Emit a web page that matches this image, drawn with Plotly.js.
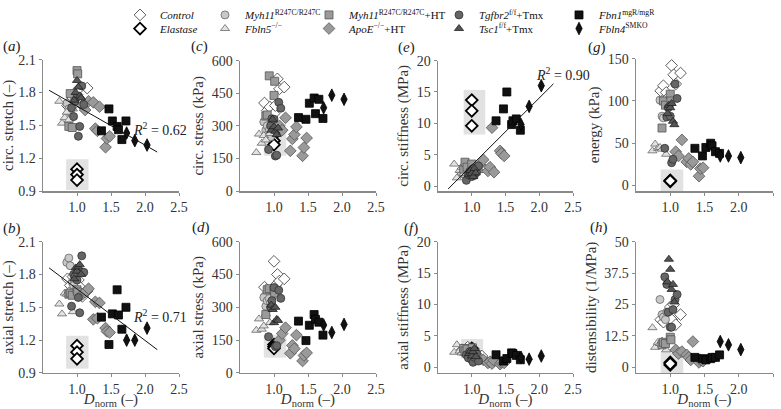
<!DOCTYPE html>
<html>
<head>
<meta charset="utf-8">
<script src="https://cdn.plot.ly/plotly-3.0.1.min.js"></script>
<style>html,body{margin:0;padding:0;background:#fff}#plot{width:781px;height:409px}</style>
</head>
<body>
<div id="plot"></div>
<script>
// D_norm per specimen and the eight metrics for each group
// panel order: circ stretch, circ stress, circ stiffness, energy, axial stretch, axial stress, axial stiffness, distensibility

// Control
var ctrlD = [0.86, 0.90, 0.94, 0.97, 1.00, 1.02, 1.05, 1.08, 1.15];
var ctrlCircStretch = [1.68, 1.72, 1.75, 1.70, 1.78, 1.83, 1.73, 1.68, 1.84];
var ctrlCircStress = [405, 370, 386, 340, 356, 393, 516, 470, 478];
var ctrlCircStiff = [2.2, 2.6, 3.2, 2.4, 3.0, 2.0, 2.8, 2.5, 3.0];
var ctrlEnergy = [112, 118, 110, 104, 157, 142, 131, 120, 133];
var ctrlAxStretch = [1.76, 1.70, 1.78, 1.72, 1.80, 1.75, 1.68, 1.60, 1.65];
var ctrlAxStress = [392, 360, 340, 375, 510, 400, 450, 420, 430];
var ctrlAxStiff = [2.8, 2.5, 3.2, 2.9, 2.6, 3.0, 2.4, 2.2, 1.8];
var ctrlDist = [19, 18, 20, 22, 24, 19, 25, 17, 21];

// Elastase
var elaD = [1.00, 1.00, 1.00];
var elaCircStretch = [1.10, 1.05, 1.00];
var elaCircStress = [258, 231, 213];
var elaCircStiff = [13.7, 12.0, 9.6];
var elaEnergy = [6, 5, 5.5];
var elaAxStretch = [1.15, 1.09, 1.03];
var elaAxStress = [130, 121, 112];
var elaAxStiff = [3.0, 2.6, 2.3];
var elaDist = [2, 1, 1.5];

// Myh11 R247C/R247C
var myhD = [0.85, 0.88, 0.90, 0.93, 0.95];
var myhCircStretch = [1.70, 1.65, 1.62, 1.58, 1.72];
var myhCircStress = [318, 280, 300, 280, 250];
var myhCircStiff = [2.0, 2.5, 1.8, 2.2, 2.8];
var myhEnergy = [101, 82, 80, 100, 95];
var myhAxStretch = [1.91, 1.95, 1.88, 1.73, 1.70];
var myhAxStress = [345, 305, 330, 340, 320];
var myhAxStiff = [2.5, 2.8, 2.2, 2.6, 3.0];
var myhDist = [27, 21, 20, 19, 22];

// Fbln5 -/-
var fb5D = [0.74, 0.78, 0.82, 0.85, 0.88, 0.94];
var fb5CircStretch = [1.72, 1.52, 1.57, 1.62, 1.55, 1.65];
var fb5CircStress = [177, 262, 220, 255, 235, 265];
var fb5CircStiff = [3.5, 1.3, 2.5, 3.0, 2.0, 2.8];
var fb5Energy = [41, 49, 44, 45, 43, 37];
var fb5AxStretch = [1.53, 1.44, 1.63, 1.62, 1.65, 1.46];
var fb5AxStress = [195, 247, 200, 215, 270, 230];
var fb5AxStiff = [2.4, 3.6, 2.6, 2.3, 3.0, 2.0];
var fb5Dist = [15.8, 8, 10, 9.5, 10.5, 7];

// Myh11 R247C/R247C + HT
var myhHtD = [0.88, 0.90, 0.93, 1.00, 1.01];
var myhHtCircStretch = [1.49, 1.79, 1.48, 2.00, 1.97];
var myhHtCircStress = [345, 350, 530, 440, 505];
var myhHtCircStiff = [2.7, 3.8, 3.0, 3.5, 2.4];
var myhHtEnergy = [68, 100, 95, 108, 100];
var myhHtAxStretch = [1.62, 1.63, 1.61, 1.66, 1.64];
var myhHtAxStress = [267, 380, 385, 380, 365];
var myhHtAxStiff = [3.0, 2.6, 2.9, 2.4, 3.1];
var myhHtDist = [9, 10, 9.5, 12, 11];

// ApoE -/- + HT
var apoD = [1.08, 1.12, 1.17, 1.24, 1.27, 1.30, 1.33, 1.42, 1.44, 1.48];
var apoCircStretch = [1.68, 1.64, 1.72, 1.71, 1.47, 1.45, 1.67, 1.30, 1.38, 1.40];
var apoCircStress = [300, 280, 337, 185, 240, 260, 295, 162, 200, 244];
var apoCircStiff = [2.6, 3.4, 4.2, 2.4, 3.0, 9.3, 2.2, 5.6, 5.2, 4.8];
var apoEnergy = [40, 35, 54, 28, 32, 25, 28, 11, 20, 21];
var apoAxStretch = [1.62, 1.64, 1.67, 1.39, 1.55, 1.40, 1.54, 1.31, 1.28, 1.27];
var apoAxStress = [150, 180, 207, 90, 126, 111, 173, 55, 80, 92];
var apoAxStiff = [1.8, 1.5, 1.2, 0.7, 0.9, 0.6, 1.1, 0.5, 0.8, 0.7];
var apoDist = [7, 5.5, 6.3, 5, 4, 3, 10.3, 2, 3, 2.5];

// Tgfbr2 f/f + Tmx
var tgfD = [0.92, 0.95, 0.97, 1.00, 1.02, 1.04, 1.07, 1.10];
var tgfCircStretch = [1.66, 1.58, 1.72, 1.76, 1.40, 1.49, 1.86, 1.69];
var tgfCircStress = [191, 300, 333, 330, 161, 165, 408, 381];
var tgfCircStiff = [0.9, 1.8, 2.3, 1.5, 2.8, 1.7, 2.2, 3.2];
var tgfEnergy = [44, 81, 92, 82, 27, 31, 120, 103];
var tgfAxStretch = [1.51, 1.80, 1.78, 1.75, 1.59, 1.45, 1.97, 1.82];
var tgfAxStress = [166, 300, 330, 390, 120, 125, 378, 341];
var tgfAxStiff = [2.0, 1.5, 2.5, 1.2, 0.8, 1.6, 2.2, 1.0];
var tgfDist = [36, 33, 22, 16, 16, 23, 27, 29];

// Tsc1 f/f + Tmx
var tscD = [0.96, 0.98, 1.00, 1.02, 1.04, 1.06];
var tscCircStretch = [1.73, 1.80, 1.91, 1.85, 1.77, 1.75];
var tscCircStress = [280, 330, 296, 275, 260, 290];
var tscCircStiff = [1.8, 2.5, 2.0, 1.5, 2.8, 2.1];
var tscEnergy = [85, 95, 92, 97, 76, 72];
var tscAxStretch = [1.76, 1.86, 1.83, 1.87, 1.89, 1.80];
var tscAxStress = [310, 290, 230, 300, 245, 240];
var tscAxStiff = [2.2, 2.6, 1.8, 2.5, 3.0, 1.7];
var tscDist = [34, 43, 39, 31, 33, 26];

// Fbn1 mgR/mgR
var fbnD = [1.36, 1.47, 1.52, 1.59, 1.61, 1.66, 1.72];
var fbnCircStretch = [1.45, 1.65, 1.54, 1.49, 1.46, 1.37, 1.54];
var fbnCircStress = [338, 330, 404, 428, 356, 422, 334];
var fbnCircStiff = [10.4, 12.3, 15.0, 9.8, 10.4, 10.7, 8.9];
var fbnEnergy = [44, 35, 45, 50, 47, 40, 38];
var fbnAxStretch = [1.41, 1.16, 1.44, 1.66, 1.43, 1.30, 1.50];
var fbnAxStress = [237, 148, 218, 267, 245, 232, 173];
var fbnAxStiff = [2.0, 1.0, 1.4, 2.3, 2.2, 1.9, 1.2];
var fbnDist = [4, 3.5, 3, 3.5, 4, 4, 5];

// Fbln4 SMKO
var fb4D = [1.73, 1.85, 2.03];
var fb4CircStretch = [1.43, 1.36, 1.32];
var fb4CircStress = [383, 441, 422];
var fb4CircStiff = [9.8, 12.7, 16.0];
var fb4Energy = [35, 35, 33];
var fb4AxStretch = [1.20, 1.20, 1.31];
var fb4AxStress = [219, 185, 222];
var fb4AxStiff = [1.6, 1.3, 1.8];
var fb4Dist = [10.3, 9, 7.1];

// regression lines (end points)
var fitCircStretchX = [0.59, 2.18], fitCircStretchY = [1.82, 1.256];
var fitAxStretchX = [0.59, 2.18], fitAxStretchY = [1.86, 1.113];
var fitCircStiffX = [0.65, 2.21], fitCircStiffY = [-0.47, 16.3];

var serif = "Liberation Serif";
var W = 781, H = 409;
function px(x) { return x / W; }
function py(y) { return 1 - y / H; }

var groups = [
  {name: "<i>Control</i>", d: ctrlD, vals: [ctrlCircStretch, ctrlCircStress, ctrlCircStiff, ctrlEnergy, ctrlAxStretch, ctrlAxStress, ctrlAxStiff, ctrlDist],
   marker: {symbol: "diamond", size: 9, color: "#fff", line: {color: "#333", width: 0.8}}, lg: "legend", pos: [140, 4]},
  {name: "<i>Elastase</i>", d: elaD, vals: [elaCircStretch, elaCircStress, elaCircStiff, elaEnergy, elaAxStretch, elaAxStress, elaAxStiff, elaDist],
   marker: {symbol: "diamond", size: 9, color: "#fff", line: {color: "#000", width: 1.8}}, lg: "legend2", pos: [140, 18]},
  {name: "<i>Myh11</i><sup>R247C/R247C</sup>", d: myhD, vals: [myhCircStretch, myhCircStress, myhCircStiff, myhEnergy, myhAxStretch, myhAxStress, myhAxStiff, myhDist],
   marker: {symbol: "circle", size: 8, color: "#c8c8c8", line: {color: "#666", width: 0.8}}, lg: "legend3", pos: [225, 4]},
  {name: "<i>Fbln5</i><sup>−/−</sup>", d: fb5D, vals: [fb5CircStretch, fb5CircStress, fb5CircStiff, fb5Energy, fb5AxStretch, fb5AxStress, fb5AxStiff, fb5Dist],
   marker: {symbol: "triangle-up", size: 8, color: "#e2e2e2", line: {color: "#666", width: 0.8}}, lg: "legend4", pos: [225, 18]},
  {name: "<i>Myh11</i><sup>R247C/R247C</sup>+HT", d: myhHtD, vals: [myhHtCircStretch, myhHtCircStress, myhHtCircStiff, myhHtEnergy, myhHtAxStretch, myhHtAxStress, myhHtAxStiff, myhHtDist],
   marker: {symbol: "square", size: 8, color: "#9a9a9a", line: {color: "#555", width: 0.8}}, lg: "legend5", pos: [329, 4]},
  {name: "<i>ApoE</i><sup>−/−</sup>+HT", d: apoD, vals: [apoCircStretch, apoCircStress, apoCircStiff, apoEnergy, apoAxStretch, apoAxStress, apoAxStiff, apoDist],
   marker: {symbol: "diamond", size: 9, color: "#9a9a9a", line: {color: "#555", width: 0.8}}, lg: "legend6", pos: [329, 18]},
  {name: "<i>Tgfbr2</i><sup>f/f</sup>+Tmx", d: tgfD, vals: [tgfCircStretch, tgfCircStress, tgfCircStiff, tgfEnergy, tgfAxStretch, tgfAxStress, tgfAxStiff, tgfDist],
   marker: {symbol: "circle", size: 8, color: "#666", line: {color: "#333", width: 0.8}}, lg: "legend7", pos: [459, 4]},
  {name: "<i>Tsc1</i><sup>f/f</sup>+Tmx", d: tscD, vals: [tscCircStretch, tscCircStress, tscCircStiff, tscEnergy, tscAxStretch, tscAxStress, tscAxStiff, tscDist],
   marker: {symbol: "triangle-up", size: 8, color: "#555", line: {color: "#222", width: 0.8}}, lg: "legend8", pos: [459, 18]},
  {name: "<i>Fbn1</i><sup>mgR/mgR</sup>", d: fbnD, vals: [fbnCircStretch, fbnCircStress, fbnCircStiff, fbnEnergy, fbnAxStretch, fbnAxStress, fbnAxStiff, fbnDist],
   marker: {symbol: "square", size: 8, color: "#111", line: {color: "#000", width: 0.8}}, lg: "legend9", pos: [579, 4]},
  {name: "<i>Fbln4</i><sup>SMKO</sup>", d: fb4D, vals: [fb4CircStretch, fb4CircStress, fb4CircStiff, fb4Energy, fb4AxStretch, fb4AxStress, fb4AxStiff, fb4Dist],
   marker: {symbol: "diamond-tall", size: 9, color: "#111", line: {color: "#000", width: 0.8}}, lg: "legend10", pos: [579, 18]}
];

// panel frames in pixels [left, right, top, bottom]
var panels = [
  {letter: "a", box: [43, 179, 50, 185], yr: [0.9, 2.1], yt: [0.9, 1.2, 1.5, 1.8, 2.1], fmt: ".1f", title: "circ. stretch (–)", shade: [0.84, 1.17, 0.91, 1.19]},
  {letter: "c", box: [240, 376, 51, 185], yr: [0, 600], yt: [0, 150, 300, 450, 600], title: "circ. stress (kPa)", shade: [0.85, 1.18, 162, 286]},
  {letter: "e", box: [438, 573, 51, 185], yr: [-0.8, 20], yt: [0, 5, 10, 15, 20], title: "circ. stiffness (MPa)", shade: [0.88, 1.2, 8.2, 15.3]},
  {letter: "g", box: [636, 773, 49, 185], yr: [-6.5, 150], yt: [0, 50, 100, 150], title: "energy (kPa)", shade: [0.86, 1.19, -6.5, 19]},
  {letter: "b", box: [43, 179, 237, 372], yr: [0.9, 2.1], yt: [0.9, 1.2, 1.5, 1.8, 2.1], fmt: ".1f", title: "axial stretch (–)", shade: [0.84, 1.17, 0.94, 1.24]},
  {letter: "d", box: [240, 376, 237, 372], yr: [0, 600], yt: [0, 150, 300, 450, 600], title: "axial stress (kPa)", shade: [0.85, 1.18, 70, 173]},
  {letter: "f", box: [438, 573, 237, 372], yr: [-0.9, 20], yt: [0, 5, 10, 15, 20], title: "axial stiffness (MPa)", shade: [0.84, 1.17, 1.4, 4.5]},
  {letter: "h", box: [636, 773, 237, 372], yr: [-2.2, 50], yt: [0, 12.5, 25, 37.5, 50], ttext: ["0", "12.5", "25", "37.5", "50"], title: "distensibility (1/MPa)", shade: [0.86, 1.19, -2.2, 6]}
];
// panel letter left edge / middle, pixels
var letterPos = {a: [1, 36], c: [189, 36], e: [396, 38], g: [586, 37], b: [1, 223], d: [190, 222], f: [402, 223], h: [588, 222]};

var axisColor = "#8a8a8a";
var tickFont = {family: serif, size: 14, color: "#333"};
var layout = {
  width: W, height: H,
  margin: {l: 0, r: 0, t: 0, b: 0},
  paper_bgcolor: "#fff", plot_bgcolor: "rgba(0,0,0,0)",
  font: {family: serif, color: "#222"},
  shapes: [], annotations: []
};

panels.forEach(function(p, i) {
  var n = i === 0 ? "" : String(i + 1);
  var bottom = i >= 4;
  var xa = {
    domain: [px(p.box[0]), px(p.box[1])], anchor: "y" + n, range: [0.5, 2.5],
    tickvals: [1, 1.5, 2, 2.5], tickformat: ".1f",
    showline: true, linecolor: axisColor, linewidth: 1.5, ticks: "outside", ticklen: 3, tickcolor: axisColor,
    showgrid: false, zeroline: false, tickfont: tickFont
  };
  if (bottom) xa.title = {text: "<i>D</i><sub>norm</sub> (–)", font: {family: serif, size: 15, color: "#333"}, standoff: 0};
  layout["xaxis" + n] = xa;
  var ya = {
    domain: [py(p.box[3]), py(p.box[2])], anchor: "x" + n, range: p.yr,
    tickvals: p.yt,
    showline: true, linecolor: axisColor, linewidth: 1.5, ticks: "outside", ticklen: 3, tickcolor: axisColor,
    showgrid: false, zeroline: false, tickfont: tickFont,
    title: {text: p.title, font: {family: serif, size: 15, color: "#333"}, standoff: 4}
  };
  if (p.fmt) ya.tickformat = p.fmt;
  if (p.ttext) ya.ticktext = p.ttext;
  layout["yaxis" + n] = ya;

  layout.shapes.push({type: "rect", xref: "x" + n, yref: "y" + n, layer: "below",
    x0: p.shade[0], x1: p.shade[1], y0: p.shade[2], y1: p.shade[3],
    fillcolor: "#e2e2e2", line: {width: 0}});

  var lp = letterPos[p.letter];
  layout.annotations.push({text: "(<i>" + p.letter + "</i>)", xref: "paper", yref: "paper",
    x: px(lp[0]), y: py(lp[1]), xanchor: "left", yanchor: "middle", showarrow: false,
    font: {family: serif, size: 15, color: "#222"}});
});

// R^2 labels
layout.annotations.push({text: "<i>R</i><sup>2</sup> = 0.62", xref: "x", yref: "y", x: 1.80, y: 1.47, xanchor: "left", showarrow: false, font: {family: serif, size: 14, color: "#222"}});
layout.annotations.push({text: "<i>R</i><sup>2</sup> = 0.71", xref: "x5", yref: "y5", x: 1.80, y: 1.42, xanchor: "left", showarrow: false, font: {family: serif, size: 14, color: "#222"}});
layout.annotations.push({text: "<i>R</i><sup>2</sup> = 0.90", xref: "x3", yref: "y3", x: 1.92, y: 17.8, xanchor: "left", showarrow: false, font: {family: serif, size: 14, color: "#222"}});

var data = [];
groups.forEach(function(g) {
  g.vals.forEach(function(v, i) {
    var n = i === 0 ? "" : String(i + 1);
    data.push({
      x: g.d, y: v, xaxis: "x" + n, yaxis: "y" + n,
      type: "scatter", mode: "markers", name: g.name, marker: g.marker,
      cliponaxis: false, showlegend: i === 0, legend: g.lg, hoverinfo: "x+y"
    });
  });
  layout[g.lg] = {
    x: px(g.pos[0] - 20), y: py(g.pos[1]), xanchor: "left", yanchor: "middle",
    bgcolor: "rgba(0,0,0,0)", borderwidth: 0, itemclick: false,
    font: {family: serif, size: 11, color: "#111"}
  };
});

// fitted lines
[[fitCircStretchX, fitCircStretchY, ""], [fitAxStretchX, fitAxStretchY, "5"], [fitCircStiffX, fitCircStiffY, "3"]].forEach(function(f) {
  data.push({x: f[0], y: f[1], xaxis: "x" + f[2], yaxis: "y" + f[2], type: "scatter", mode: "lines",
    line: {color: "#111", width: 1}, showlegend: false, hoverinfo: "skip"});
});

Plotly.newPlot("plot", data, layout, {displayModeBar: false, staticPlot: true});
</script>
</body>
</html>
